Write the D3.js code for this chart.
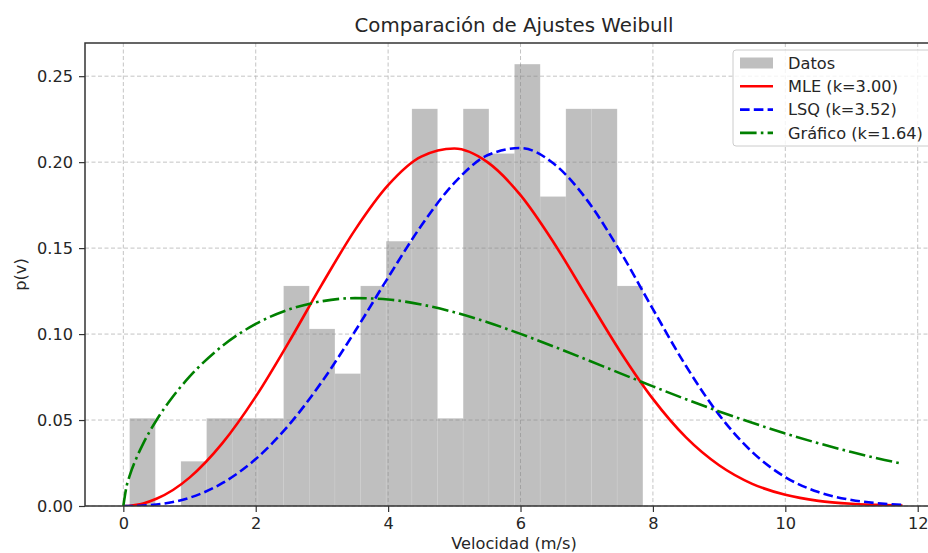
<!DOCTYPE html>
<html>
<head>
<meta charset="utf-8">
<script src="https://cdn.jsdelivr.net/npm/d3@7"></script>
<style>
  html, body { margin: 0; padding: 0; background: #ffffff; }
  svg { display: block; }
  text { font-family: "DejaVu Sans", sans-serif; fill: #262626; }
</style>
</head>
<body>
<svg id="chart" width="928" height="553"></svg>
<script>
// ---------- data ----------
const title = "Comparación de Ajustes Weibull";
const xLabel = "Velocidad (m/s)";
const yLabel = "p(v)";

// histogram bins (edges) and densities
const binEdges = [0.095, 0.483, 0.870, 1.258, 1.646, 2.033, 2.421, 2.809, 3.196, 3.584, 3.971,
                  4.359, 4.747, 5.134, 5.522, 5.909, 6.297, 6.685, 7.072, 7.460, 7.848];
const binDensity = [0.051, 0, 0.026, 0.051, 0.051, 0.051, 0.128, 0.103, 0.077, 0.128,
                    0.154, 0.231, 0.051, 0.231, 0.205, 0.257, 0.180, 0.231, 0.231, 0.128];

// fitted curves sampled along the velocity axis
const vGrid = [0, 0.05, 0.1, 0.2, 0.3, 0.5, 0.75, 1, 1.5, 2, 2.5, 3, 3.5, 4, 4.5, 5, 5.5, 6, 6.5, 7,
               7.5, 8, 8.5, 9, 9.5, 10, 10.5, 11, 11.5, 11.77];
const mleValues = [0, 0.00004, 0.00017, 0.00067, 0.0015, 0.0042, 0.0093, 0.0165, 0.0367, 0.0636,
                   0.0953, 0.1289, 0.1606, 0.1866, 0.2032, 0.2079, 0.2000, 0.1808, 0.1533, 0.1217,
                   0.0902, 0.0623, 0.0399, 0.0237, 0.0129, 0.0065, 0.0030, 0.0013, 0.0005, 0.0003];
const lsqValues = [0, 0, 0.00002, 0.00008, 0.00023, 0.00085, 0.0023, 0.0048, 0.0134, 0.0273,
                   0.0471, 0.0723, 0.1016, 0.1329, 0.1630, 0.1879, 0.2040, 0.2082, 0.1992, 0.1782,
                   0.1484, 0.1145, 0.0814, 0.0530, 0.0314, 0.0168, 0.0081, 0.0035, 0.0013, 0.0007];
const grafValues = [0, 0.0116, 0.0181, 0.0281, 0.0363, 0.0499, 0.0637, 0.0752, 0.0932, 0.1059,
                    0.1143, 0.1191, 0.1209, 0.1201, 0.1172, 0.1127, 0.1069, 0.1001, 0.0928, 0.0851,
                    0.0773, 0.0696, 0.0621, 0.0550, 0.0484, 0.0422, 0.0365, 0.0314, 0.0268, 0.0246];

const seriesNames = ["MLE (k=3.00)", "LSQ (k=3.52)", "Gráfico (k=1.64)"];
const histName = "Datos";
const xTicks = [0, 2, 4, 6, 8, 10, 12];
const yTicks = [0, 0.05, 0.10, 0.15, 0.20, 0.25];

// ---------- layout ----------
const svg = d3.select("#chart");
const L = 85, R = 943, T = 43, B = 506;
const fs = 16.2;

const x = d3.scaleLinear().domain([-0.579, 12.382]).range([L, R]);
const y = d3.scaleLinear().domain([0, 0.2693]).range([B, T]);

// clip for plot area
svg.append("defs").append("clipPath").attr("id", "plotclip")
  .append("rect").attr("x", L).attr("y", T).attr("width", R - L).attr("height", B - T);

// grid
const grid = svg.append("g");
grid.selectAll("line.gx").data(xTicks).join("line")
  .attr("x1", d => x(d)).attr("x2", d => x(d)).attr("y1", T).attr("y2", B)
  .attr("stroke", "#b0b0b0").attr("stroke-opacity", 0.75).attr("stroke-width", 1)
  .attr("stroke-dasharray", "4,2.5");
grid.selectAll("line.gy").data(yTicks).join("line")
  .attr("y1", d => y(d)).attr("y2", d => y(d)).attr("x1", L).attr("x2", R)
  .attr("stroke", "#b0b0b0").attr("stroke-opacity", 0.75).attr("stroke-width", 1)
  .attr("stroke-dasharray", "4,2.5");

// histogram
const plot = svg.append("g").attr("clip-path", "url(#plotclip)");
plot.selectAll("rect.bar").data(binDensity).join("rect")
  .attr("x", (d, i) => x(binEdges[i]))
  .attr("width", (d, i) => x(binEdges[i + 1]) - x(binEdges[i]))
  .attr("y", d => y(d))
  .attr("height", d => B - y(d))
  .attr("fill", "#808080").attr("fill-opacity", 0.5)
  .attr("stroke", "#ffffff").attr("stroke-opacity", 0.12).attr("stroke-width", 0.8);

// curves
const line = d3.line().x(d => x(d[0])).y(d => y(d[1])).curve(d3.curveMonotoneX);
const curves = [
  { vals: mleValues, color: "#ff0000", dash: null },
  { vals: lsqValues, color: "#0000ff", dash: "9.6,4.2" },
  { vals: grafValues, color: "#008000", dash: "16.6,4.2,2.6,4.2" }
];
curves.forEach(c => {
  plot.append("path")
    .datum(vGrid.map((v, i) => [v, c.vals[i]]))
    .attr("d", line)
    .attr("fill", "none")
    .attr("stroke", c.color)
    .attr("stroke-width", 2.6)
    .attr("stroke-dasharray", c.dash)
    .attr("stroke-linecap", "butt");
});

// axes
const xAxis = svg.append("g").attr("transform", `translate(0,${B})`)
  .call(d3.axisBottom(x).tickValues(xTicks).tickFormat(d3.format("d")).tickSize(6).tickPadding(5));
const yAxis = svg.append("g").attr("transform", `translate(${L},0)`)
  .call(d3.axisLeft(y).tickValues(yTicks).tickFormat(d3.format(".2f")).tickSize(6).tickPadding(6));
[xAxis, yAxis].forEach(a => {
  a.select(".domain").remove();
  a.selectAll(".tick line").attr("stroke", "#333").attr("stroke-width", 1.2);
  a.selectAll(".tick text").attr("font-size", fs).attr("font-family", "DejaVu Sans").attr("fill", "#262626");
});

// spines
svg.append("rect").attr("x", L).attr("y", T).attr("width", R - L).attr("height", B - T)
  .attr("fill", "none").attr("stroke", "#333").attr("stroke-width", 1.5);

// title and labels
svg.append("text").attr("x", (L + R) / 2).attr("y", 32)
  .attr("text-anchor", "middle").attr("font-size", 19.8).text(title);
svg.append("text").attr("x", (L + R) / 2).attr("y", 549)
  .attr("text-anchor", "middle").attr("font-size", fs).text(xLabel);
svg.append("text").attr("transform", `translate(26,${(T + B) / 2}) rotate(-90)`)
  .attr("text-anchor", "middle").attr("font-size", fs).text(yLabel);

// legend
const lg = svg.append("g");
const lgX = 733, lgY = 50, lgW = 203, lgH = 96, rowH = 23.3;
lg.append("rect").attr("x", lgX).attr("y", lgY).attr("width", lgW).attr("height", lgH)
  .attr("rx", 3).attr("fill", "#ffffff").attr("fill-opacity", 0.8)
  .attr("stroke", "#cccccc").attr("stroke-width", 1);
const items = [{ name: histName, type: "patch" }].concat(
  seriesNames.map((n, i) => ({ name: n, type: "line", color: curves[i].color, dash: curves[i].dash })));
items.forEach((it, i) => {
  const cy = 63 + i * rowH;
  if (it.type === "patch") {
    lg.append("rect").attr("x", 740).attr("y", cy - 5.5).attr("width", 33).attr("height", 11)
      .attr("fill", "#808080").attr("fill-opacity", 0.5);
  } else {
    lg.append("line").attr("x1", 740).attr("x2", 773).attr("y1", cy).attr("y2", cy)
      .attr("stroke", it.color).attr("stroke-width", 2.6).attr("stroke-dasharray", it.dash);
  }
  lg.append("text").attr("x", 788).attr("y", cy).attr("dy", "0.36em")
    .attr("font-size", fs).text(it.name);
});
</script>
</body>
</html>
